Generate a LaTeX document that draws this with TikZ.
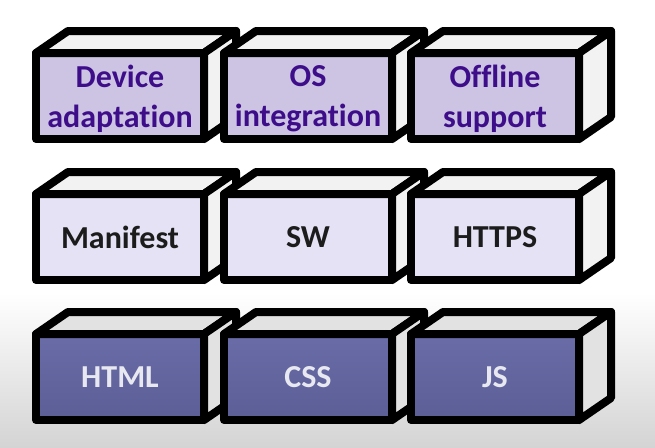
\documentclass[tikz,border=0pt]{standalone}
\usepackage{fontspec}
\setmainfont{Carlito}[Ligatures=NoCommon]
\definecolor{topfront}{RGB}{205,195,227}
\definecolor{toptext}{RGB}{62,14,138}
\definecolor{midfront}{RGB}{228,226,244}
\definecolor{midtext}{RGB}{28,28,28}
\definecolor{botfronttop}{RGB}{106,108,168}
\definecolor{botfrontbot}{RGB}{92,94,150}
\definecolor{bottext}{RGB}{232,232,240}
\definecolor{facelight}{RGB}{242,242,242}
\definecolor{facegray}{RGB}{226,226,226}
\definecolor{bggray}{RGB}{212,212,212}
\tikzset{
  frontbox/.style={draw=black, line width=8pt, line join=round, rectangle, outer sep=0pt,
    minimum width=168pt, minimum height=86pt, inner sep=0pt, align=center,
    font=\bfseries\fontsize{32}{40}\selectfont},
  toprow/.style={frontbox, fill=topfront, text=toptext, text depth=0pt},
  midrow/.style={frontbox, fill=midfront, text=midtext},
  botrow/.style={frontbox, top color=botfronttop, bottom color=botfrontbot, text=bottext},
  cubeface/.style={draw=black, line width=8pt, line join=round},
}
\newcommand{\mycube}[5]{% name, x, y (front top-left), style, text
  \node[#4, anchor=north west] (#1) at (#2,#3) {#5};
}
\newcommand{\mycubefaces}[2]{% name, face colour
  \filldraw[cubeface, fill=#2] (#1.north west) -- ++(32,-22) -- ++(168,0) -- (#1.north east) -- cycle;
  \filldraw[cubeface, fill=#2] (#1.north east) -- ++(32,-22) -- ++(0,86) -- (#1.south east) -- cycle;
}
\begin{document}
\begin{tikzpicture}[x=1pt, y=-1pt]
\useasboundingbox (0,0) rectangle (655,447);
\fill[white] (0,0) rectangle (655,293);
\shade[top color=white, bottom color=bggray] (0,293) rectangle (655,447);
% top row
\mycube{dev}{36}{53}{toprow}{Device\\adaptation}
\mycubefaces{dev}{facelight}
\mycube{os}{224}{53}{toprow}{OS\\integration}
\mycubefaces{os}{facelight}
\mycube{off}{411}{53}{toprow}{Offline\\support}
\mycubefaces{off}{facelight}
% middle row
\mycube{man}{36}{194}{midrow}{Manifest}
\mycubefaces{man}{facelight}
\mycube{sw}{224}{194}{midrow}{SW}
\mycubefaces{sw}{facelight}
\mycube{https}{411}{194}{midrow}{HTTPS}
\mycubefaces{https}{facelight}
% bottom row
\mycube{html}{36}{334}{botrow}{HTML}
\mycubefaces{html}{facegray}
\mycube{css}{224}{334}{botrow}{CSS}
\mycubefaces{css}{facegray}
\mycube{js}{411}{334}{botrow}{JS}
\mycubefaces{js}{facegray}
\end{tikzpicture}
\end{document}
